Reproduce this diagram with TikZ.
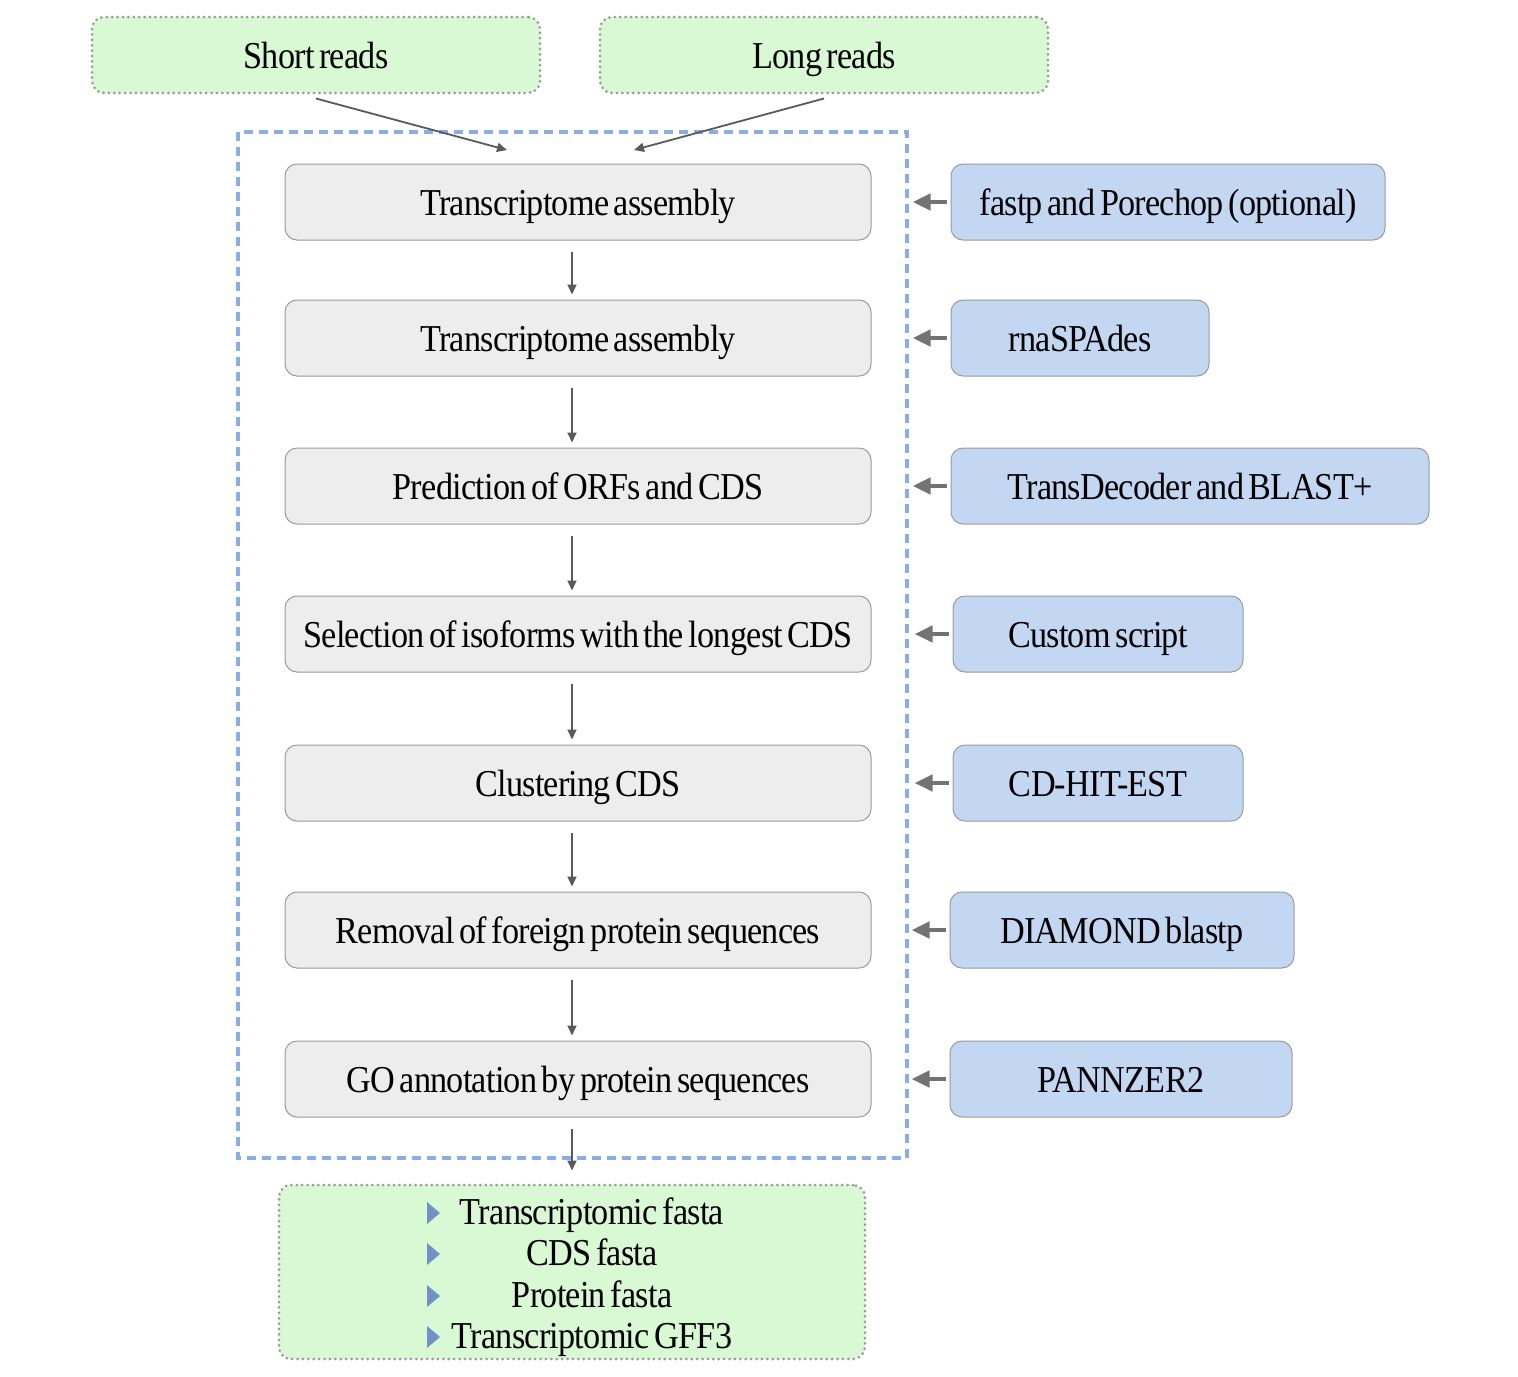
\documentclass[tikz,border=0pt]{standalone}
\usepackage{fontspec}
\setmainfont[FakeStretch=0.9,WordSpace=0.6,LetterSpace=-2]{Liberation Serif}
\usetikzlibrary{arrows.meta}
\definecolor{readgreen}{HTML}{D9F8D4}
\definecolor{toolblue}{HTML}{C4D7F2}
\definecolor{stepgray}{HTML}{EDEDED}
\definecolor{framegray}{HTML}{9A9A9A}
\definecolor{dashblue}{HTML}{8AADE8}
\definecolor{arrgray}{HTML}{5A5A5A}
\definecolor{bulletblue}{HTML}{7391C9}
\begin{document}
\begin{tikzpicture}[x=0.5pt,y=-0.5pt,
    font=\fontsize{19}{23}\selectfont,
    every node/.style={text height=13pt,text depth=0pt},
    readbox/.style={draw=framegray,line width=1.5pt,line cap=round,dash pattern=on 0pt off 2.7pt,
      fill=readgreen,rounded corners=6pt,minimum width=224pt,minimum height=38pt,inner sep=0pt},
    stepbox/.style={draw=framegray,line width=0.5pt,fill=stepgray,rounded corners=6pt,
      minimum width=293pt,minimum height=38pt,inner sep=0pt},
    toolbox/.style={draw=framegray,line width=0.5pt,fill=toolblue,rounded corners=6pt,
      minimum height=38pt,inner sep=0pt},
    arr/.style={-{Triangle[length=5pt,width=4.5pt]},line width=0.9pt,arrgray},
    toolarr/.style={-{Triangle[length=9pt,width=8pt]},line width=2.4pt,gray!90!black}]
    \useasboundingbox (0,0) rectangle (1518,1376);

    % inputs
    \node[readbox] (short) at (316,55) {Short reads};
    \node[readbox] (long) at (824,55) {Long reads};

    % pipeline frame
    \draw[dashblue,line width=1.6pt,dash pattern=on 4.5pt off 3pt] (238,132) rectangle (907,1158);
    \coordinate (in1) at (507,150);
    \coordinate (in2) at (634,150);
    \draw[arr] (short.south) ++(0,4) -- (in1);
    \draw[arr] (long.south) ++(0,4) -- (in2);

    % steps
    \node[stepbox] (s1) at (578,202) {Transcriptome assembly};
    \node[stepbox] (s2) at (578,338) {Transcriptome assembly};
    \node[stepbox] (s3) at (578,486) {Prediction of ORFs and CDS};
    \node[stepbox] (s4) at (578,634) {Selection of isoforms with the longest CDS};
    \node[stepbox] (s5) at (578,783) {Clustering CDS};
    \node[stepbox] (s6) at (578,930) {Removal of foreign protein sequences};
    \node[stepbox] (s7) at (578,1079) {GO annotation by protein sequences};

    % tools
    \node[toolbox,minimum width=217pt] (t1) at (1168,202) {fastp and Porechop (optional)};
    \node[toolbox,minimum width=129pt] (t2) at (1080,338) {rnaSPAdes};
    \node[toolbox,minimum width=239pt] (t3) at (1190,486) {TransDecoder and BLAST+};
    \node[toolbox,minimum width=145pt] (t4) at (1098,634) {Custom script};
    \node[toolbox,minimum width=145pt] (t5) at (1098,783) {CD-HIT-EST};
    \node[toolbox,minimum width=172pt] (t6) at (1122,930) {DIAMOND blastp};
    \node[toolbox,minimum width=171pt] (t7) at (1121,1079) {PANNZER2};

    % outputs
    \node[readbox,minimum width=293pt,minimum height=87pt] (out) at (572,1272) {};
    \node (o1) at (592,1211) {Transcriptomic fasta};
    \node (o2) at (592,1252) {CDS fasta};
    \node (o3) at (592,1294) {Protein fasta};
    \node (o4) at (592,1335) {Transcriptomic GFF3};
    \foreach \y in {1213,1254,1296,1337}
      \fill[bulletblue] (427,\y-11) -- (440,\y) -- (427,\y+11) -- cycle;

    \foreach \a/\b in {s1/s2,s2/s3,s3/s4,s4/s5,s5/s6,s6/s7}
      \draw[arr] ([xshift=-3pt,yshift=-5.5pt]\a.south) -- ([xshift=-3pt,yshift=2.5pt]\b.north);
    \draw[arr] ([xshift=-3pt,yshift=-5.5pt]s7.south) -- ([yshift=6.5pt]out.north);
    \foreach \i in {1,...,7}
      \draw[toolarr] ([xshift=-2pt]t\i.west) -- ++(-34,0);
  \end{tikzpicture}
\end{document}
